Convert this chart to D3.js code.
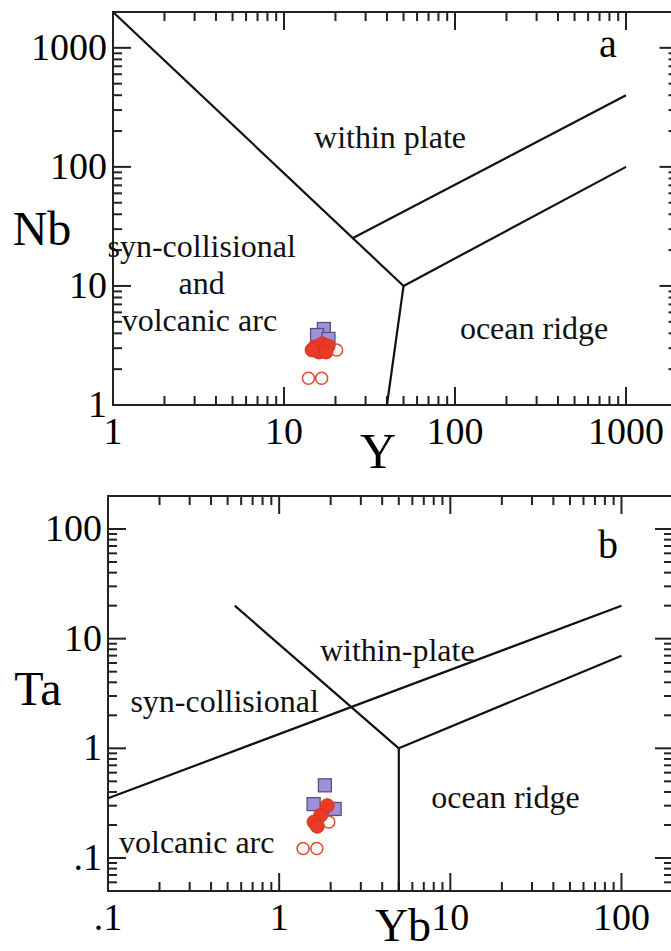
<!DOCTYPE html>
<html lang="en">
<head>
<meta charset="UTF-8">
<title>Nb-Y and Ta-Yb discrimination diagrams</title>
<script src="https://d3js.org/d3.v7.min.js"></script>
<style>
  body { margin: 0; background: #fff; }
  svg { display: block; font-family: "Liberation Serif", "Times New Roman", serif; }
</style>
</head>
<body>
<svg id="chart" width="671" height="951"></svg>
<script>
// ---- panel a : Nb vs Y ----
const aSquares = [[17.1, 4.35], [15.6, 3.87], [18.2, 3.59]];
const aFilled  = [[15.2, 3.07], [16.7, 3.26], [18.1, 3.13], [16.0, 2.79], [17.6, 2.79], [14.6, 2.90]];
const aOpen    = [[20.3, 2.90], [13.9, 1.68], [16.6, 1.68]];
const aLines   = [[[1, 2000], [50, 10]], [[50, 10], [1000, 100]], [[50, 10], [40, 1]], [[25, 25], [1000, 400]]];
const aXTicks  = ["1", "10", "100", "1000"];
const aYTicks  = ["1", "10", "100", "1000"];
const aFields  = [
  {text: "within plate", at: [41.7, 145]},
  {text: "syn-collisional", at: [3.3, 17.5]},
  {text: "and", at: [3.3, 8.6]},
  {text: "volcanic arc", at: [3.2, 4.2]},
  {text: "ocean ridge", at: [290, 3.6]}
];

// ---- panel b : Ta vs Yb ----
const bSquares = [[1.85, 0.46], [1.59, 0.31], [2.11, 0.28]];
const bFilled  = [[1.91, 0.30], [1.75, 0.245], [1.60, 0.213], [1.67, 0.195]];
const bOpen    = [[1.95, 0.213], [1.38, 0.122], [1.66, 0.122]];
const bLines   = [[[0.1, 0.35], [100, 20]], [[0.55, 20], [5, 1]], [[5, 1], [5, 0.05]], [[5, 1], [100, 7]]];
const bXTicks  = [".1", "1", "10", "100"];
const bYTicks  = [".1", "1", "10", "100"];
const bFields  = [
  {text: "within-plate", at: [4.9, 6.3]},
  {text: "syn-collisional", at: [0.48, 2.13]},
  {text: "volcanic arc", at: [0.33, 0.11]},
  {text: "ocean ridge", at: [21, 0.285]}
];

const svg = d3.select("#chart");

function drawPanel(p) {
  const x = d3.scaleLog().domain(p.xDomain).range(p.xRange);
  const y = d3.scaleLog().domain(p.yDomain).range(p.yRange);
  const g = svg.append("g");
  const [x0, x1] = p.xRange, [y0, y1] = p.yRange;
  const isMajor = v => Math.abs(Math.log10(v) - Math.round(Math.log10(v))) < 1e-9;

  // frame
  g.append("rect")
    .attr("x", x0).attr("y", y1)
    .attr("width", x1 - x0).attr("height", y0 - y1)
    .attr("fill", "none").attr("stroke", "#222").attr("stroke-width", 2);

  // inward ticks on all four sides
  const xt = x.ticks().filter(v => v > p.xDomain[0] && v < p.xDomain[1]);
  const yt = y.ticks().filter(v => v > p.yDomain[0] && v < p.yDomain[1]);
  const len = v => isMajor(v) ? 18 : 9;
  g.selectAll(".xb").data(xt).join("line")
    .attr("x1", d => x(d)).attr("x2", d => x(d))
    .attr("y1", y0).attr("y2", d => y0 - len(d));
  g.selectAll(".xt").data(xt).join("line")
    .attr("x1", d => x(d)).attr("x2", d => x(d))
    .attr("y1", y1).attr("y2", d => y1 + len(d));
  g.selectAll(".yl").data(yt).join("line")
    .attr("y1", d => y(d)).attr("y2", d => y(d))
    .attr("x1", x0).attr("x2", d => x0 + len(d));
  g.selectAll(".yr").data(yt).join("line")
    .attr("y1", d => y(d)).attr("y2", d => y(d))
    .attr("x1", x1).attr("x2", d => x1 - len(d));
  g.selectAll("line").attr("stroke", "#222").attr("stroke-width", 2);

  // tick labels
  const majX = xt.concat([p.xDomain[0]]).filter(isMajor).sort((a, b) => a - b);
  const majY = yt.concat([p.yDomain[0]]).filter(isMajor).sort((a, b) => a - b);
  g.selectAll(".xl").data(majX).join("text")
    .attr("x", d => x(d)).attr("y", y0 + 39)
    .attr("text-anchor", "middle").attr("font-size", 38)
    .text((d, i) => p.xLabels[i]);
  g.selectAll(".ylab").data(majY).join("text")
    .attr("x", x0 - 6).attr("y", d => y(d) + 12)
    .attr("text-anchor", "end").attr("font-size", 38)
    .text((d, i) => p.yLabels[i]);

  // axis titles
  g.append("text").attr("x", p.xTitlePos[0]).attr("y", p.xTitlePos[1])
    .attr("text-anchor", "middle").attr("font-size", p.xTitleSize).text(p.xTitle);
  g.append("text").attr("x", p.yTitlePos[0]).attr("y", p.yTitlePos[1])
    .attr("text-anchor", "middle").attr("font-size", 48).text(p.yTitle);

  // panel letter
  g.append("text").attr("x", x0 + p.letterPos[0]).attr("y", y1 + p.letterPos[1])
    .attr("text-anchor", "middle").attr("font-size", 40).text(p.letter);

  // field boundaries
  g.selectAll(".bound").data(p.lines).join("path")
    .attr("d", d => d3.line().x(v => x(v[0])).y(v => y(v[1]))(d))
    .attr("fill", "none").attr("stroke", "#111").attr("stroke-width", 2.2);

  // field names
  g.selectAll(".field").data(p.fields).join("text")
    .attr("x", d => x(d.at[0])).attr("y", d => y(d.at[1]))
    .attr("text-anchor", "middle").attr("font-size", 32).attr("fill", "#111")
    .text(d => d.text);

  // samples
  const s = 13;
  g.selectAll(".sq").data(p.squares).join("rect")
    .attr("x", d => x(d[0]) - s / 2).attr("y", d => y(d[1]) - s / 2)
    .attr("width", s).attr("height", s)
    .attr("fill", "#9d91d8").attr("stroke", "#5a4f8c").attr("stroke-width", 1.3);
  g.selectAll(".fc").data(p.filled).join("circle")
    .attr("cx", d => x(d[0])).attr("cy", d => y(d[1])).attr("r", 7)
    .attr("fill", "#ea3b26").attr("stroke", "#d8321f").attr("stroke-width", 1);
  g.selectAll(".oc").data(p.open).join("circle")
    .attr("cx", d => x(d[0])).attr("cy", d => y(d[1])).attr("r", 6)
    .attr("fill", "none").attr("stroke", "#dc4a2e").attr("stroke-width", 1.5);
}

drawPanel({
  xDomain: [1, 2000], xRange: [113, 677.5],
  yDomain: [1, 2000], yRange: [405, 12],
  xLabels: aXTicks, yLabels: aYTicks,
  xTitle: "Y", xTitlePos: [378, 468], xTitleSize: 50,
  yTitle: "Nb", yTitlePos: [42, 245],
  letter: "a", letterPos: [495, 45],
  lines: aLines, fields: aFields,
  squares: aSquares, filled: aFilled, open: aOpen
});

drawPanel({
  xDomain: [0.1, 200], xRange: [108, 673],
  yDomain: [0.05, 200], yRange: [891, 496],
  xLabels: bXTicks, yLabels: bYTicks,
  xTitle: "Yb", xTitlePos: [403, 941], xTitleSize: 46,
  yTitle: "Ta", yTitlePos: [38, 705],
  letter: "b", letterPos: [500, 62],
  lines: bLines, fields: bFields,
  squares: bSquares, filled: bFilled, open: bOpen
});
</script>
</body>
</html>
